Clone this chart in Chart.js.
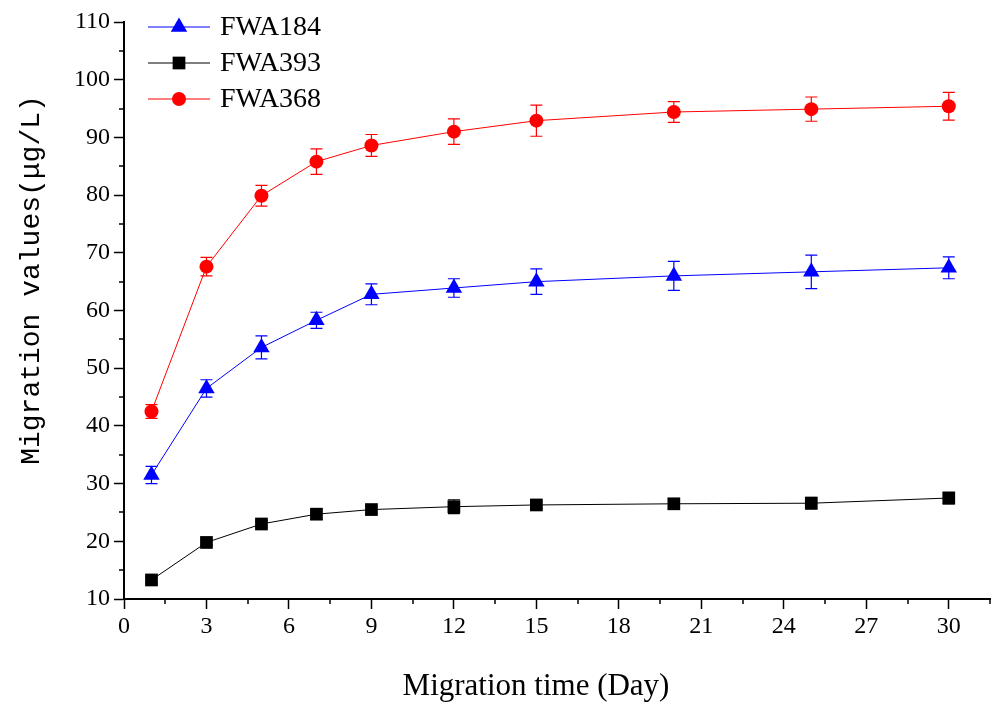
<!DOCTYPE html>
<html lang="en">
<head>
    <meta charset="UTF-8">
    <title>Migration values</title>
    <script src="https://cdn.jsdelivr.net/npm/chart.js"></script>
    <style>
        body { margin: 0; background: #fff; }
        #wrap { width: 992px; height: 704px; }
    </style>
</head>
<body>
    <div id="wrap">
        <canvas id="grafico" width="992" height="704"></canvas>
    </div>
<script>
    // dias de migração
    const dias = [1, 3, 5, 7, 9, 12, 15, 20, 25, 30];

    // valores (µg/L)
    const fwa184 = [31.5, 46.5, 53.6, 58.3, 62.8, 63.9, 65.0, 66.0, 66.7, 67.4];
    const fwa393 = [13.3, 19.8, 23.0, 24.7, 25.5, 26.0, 26.3, 26.5, 26.6, 27.5];
    const fwa368 = [42.5, 67.6, 79.9, 85.8, 88.6, 91.0, 92.9, 94.4, 94.9, 95.4];

    // desvios (barras de erro)
    const err184 = [1.5, 1.5, 2.0, 1.4, 1.8, 1.6, 2.2, 2.5, 2.9, 1.9];
    const err393 = [0.5, 0.5, 0.6, 0.9, 0.6, 1.2, 0.6, 0.9, 1.0, 1.0];
    const err368 = [1.2, 1.6, 1.8, 2.2, 1.9, 2.2, 2.7, 1.8, 2.1, 2.4];

    const serif = "'Liberation Serif', 'Times New Roman', serif";

    function pontos(valores) {
        return dias.map((d, i) => ({ x: d, y: valores[i] }));
    }

    // barras de erro desenhadas pelas escalas do próprio gráfico
    const barrasErro = {
        id: 'barrasErro',
        beforeDatasetsDraw(chart) {
            const ctx = chart.ctx;
            const xs = chart.scales.x, ys = chart.scales.y;
            chart.data.datasets.forEach(ds => {
                ctx.save();
                ctx.strokeStyle = ds.borderColor;
                ctx.lineWidth = 1.2;
                ds.data.forEach((p, i) => {
                    const e = ds.erros[i];
                    const px = xs.getPixelForValue(p.x);
                    const top = ys.getPixelForValue(p.y + e);
                    const bot = ys.getPixelForValue(p.y - e);
                    ctx.beginPath();
                    ctx.moveTo(px, top); ctx.lineTo(px, bot);
                    ctx.moveTo(px - 6, top); ctx.lineTo(px + 6, top);
                    ctx.moveTo(px - 6, bot); ctx.lineTo(px + 6, bot);
                    ctx.stroke();
                });
                ctx.restore();
            });
        }
    };

    // ticks menores, títulos dos eixos e legenda
    const extras = {
        id: 'extras',
        afterDraw(chart) {
            const ctx = chart.ctx;
            const xs = chart.scales.x, ys = chart.scales.y;
            const area = chart.chartArea;
            ctx.save();
            ctx.strokeStyle = '#000';
            ctx.lineWidth = 1.5;
            ctx.beginPath();
            for (let v = 1.5; v <= 31.5; v += 3) {
                const px = Math.round(xs.getPixelForValue(v));
                ctx.moveTo(px, area.bottom); ctx.lineTo(px, area.bottom + 5);
            }
            for (let v = 15; v <= 105; v += 10) {
                const py = Math.round(ys.getPixelForValue(v));
                ctx.moveTo(area.left - 5, py); ctx.lineTo(area.left, py);
            }
            ctx.stroke();

            // títulos
            ctx.fillStyle = '#000';
            ctx.font = '31px ' + serif;
            ctx.textAlign = 'center';
            ctx.textBaseline = 'middle';
            ctx.fillText('Migration time (Day)', 536, 687);

            ctx.save();
            ctx.translate(32, 280);
            ctx.rotate(-Math.PI / 2);
            ctx.font = "28px 'Liberation Mono', 'DejaVu Sans Mono', monospace";
            ctx.fillText('Migration values(μg/L)', 0, 0);
            ctx.restore();

            // legenda
            chart.data.datasets.forEach((ds, i) => {
                const y = 27 + i * 36;
                ctx.strokeStyle = ds.borderColor;
                ctx.lineWidth = 1;
                ctx.beginPath();
                ctx.moveTo(148, y); ctx.lineTo(210, y);
                ctx.stroke();
                ctx.fillStyle = ds.backgroundColor;
                Chart.helpers.drawPoint(ctx, {
                    pointStyle: ds.pointStyle,
                    radius: ds.pointRadius,
                    borderWidth: 0
                }, 179, y);
                ctx.fillStyle = '#000';
                ctx.font = '28px ' + serif;
                ctx.textAlign = 'left';
                ctx.fillText(ds.label, 220, y + 1);
            });
            ctx.restore();
        }
    };

    function serie(label, valores, erros, cor, estilo, raio) {
        return {
            label: label,
            data: pontos(valores),
            erros: erros,
            borderColor: cor,
            backgroundColor: cor,
            pointBackgroundColor: cor,
            pointBorderColor: cor,
            pointBorderWidth: 0,
            pointStyle: estilo,
            pointRadius: raio,
            borderWidth: 1,
            tension: 0
        };
    }

    new Chart(document.getElementById('grafico'), {
        type: 'line',
        data: {
            datasets: [
                serie('FWA184', fwa184, err184, '#0000ff', 'triangle', 9.5),
                serie('FWA393', fwa393, err393, '#000000', 'rect', 9),
                serie('FWA368', fwa368, err368, '#ff0000', 'circle', 7)
            ]
        },
        options: {
            responsive: false,
            animation: false,
            layout: { autoPadding: false, padding: { top: 22, right: 2, left: 0, bottom: 0 } },
            plugins: {
                legend: { display: false },
                tooltip: { enabled: false }
            },
            scales: {
                x: {
                    type: 'linear',
                    min: 0,
                    max: 31.5,
                    afterFit(scale) { scale.height = 105; },
                    ticks: {
                        stepSize: 3,
                        includeBounds: false,
                        color: '#000',
                        font: { family: serif, size: 24 },
                        padding: 3
                    },
                    grid: {
                        drawOnChartArea: false,
                        tickLength: 10,
                        tickColor: '#000',
                        tickWidth: 1.5
                    },
                    border: { display: true, color: '#000', width: 2 }
                },
                y: {
                    min: 10,
                    max: 110,
                    afterFit(scale) { scale.width = 124; },
                    ticks: {
                        stepSize: 10,
                        color: '#000',
                        font: { family: serif, size: 24 },
                        padding: 4
                    },
                    grid: {
                        drawOnChartArea: false,
                        tickLength: 10,
                        tickColor: '#000',
                        tickWidth: 1.5
                    },
                    border: { display: true, color: '#000', width: 2 }
                }
            }
        },
        plugins: [barrasErro, extras]
    });
</script>
</body>
</html>
